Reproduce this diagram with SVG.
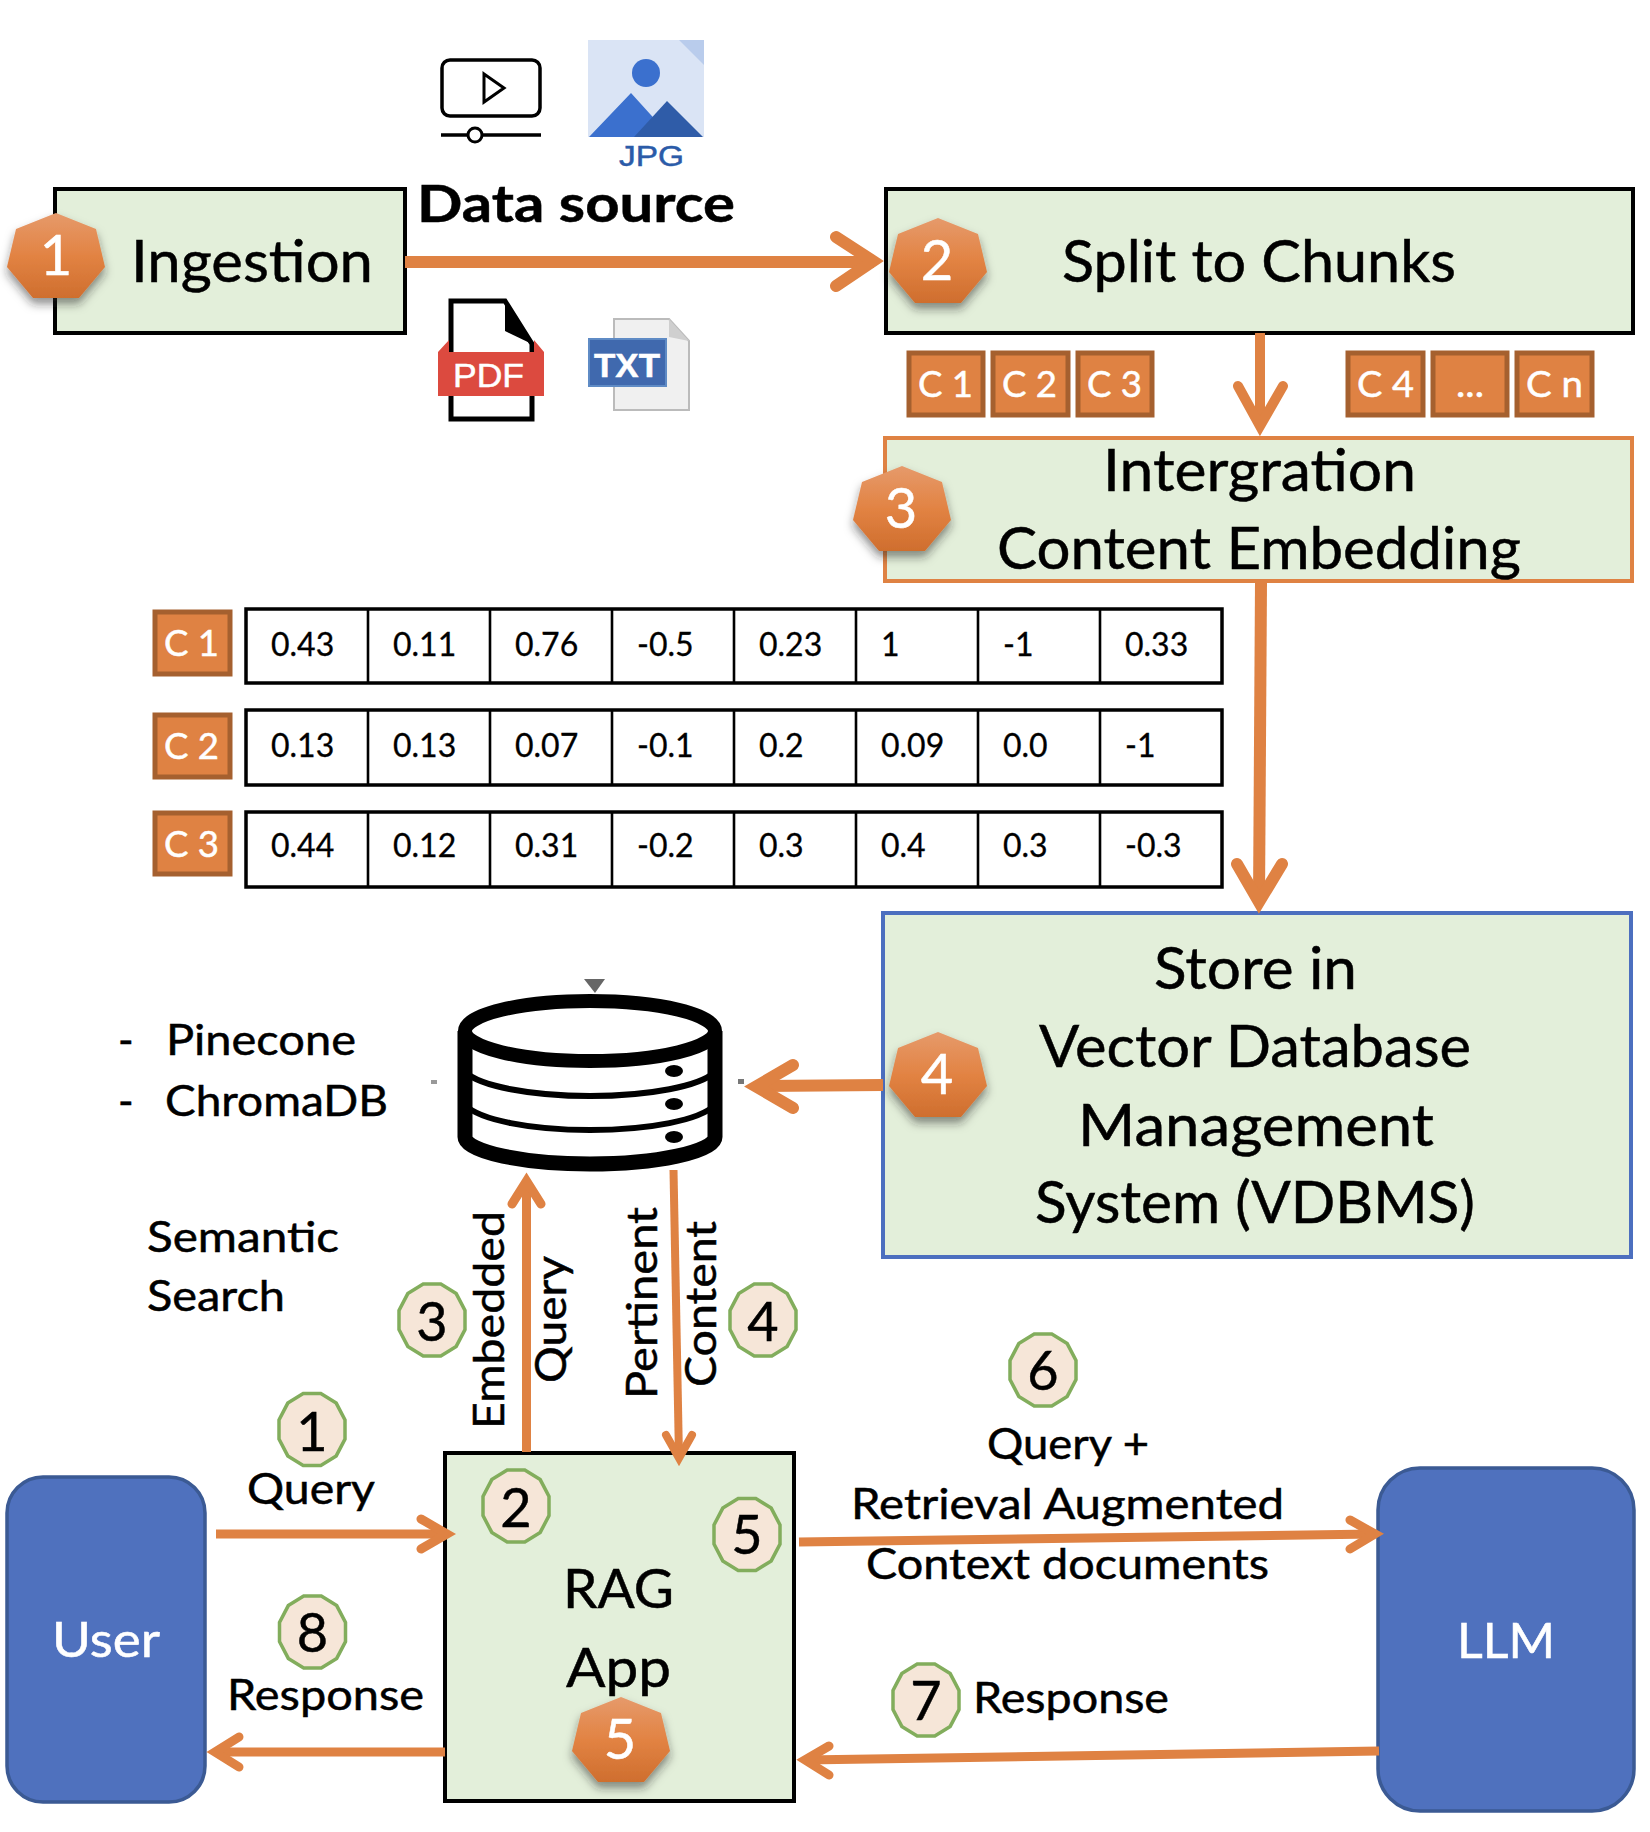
<svg xmlns="http://www.w3.org/2000/svg" xmlns:xlink="http://www.w3.org/1999/xlink" width="1650" height="1832" viewBox="0 0 1650 1832">
<style>
text{font-family:Lato,"Liberation Sans",sans-serif;fill:#000;stroke:#000;stroke-width:.5px}
.t58{font-size:58px}.t55{font-size:55px}.t42{font-size:42px}.t32{font-size:32px;stroke-width:.3px}
text.w{fill:#fff;stroke:#fff}
.arial{font-family:"Liberation Sans",Arial,sans-serif}
.box{fill:#E3EFDA;stroke:#000;stroke-width:4}
.chip{fill:#DF8243;stroke:#A5602F;stroke-width:5}
text.chipt{font-size:37px;fill:#fff;stroke:#fff}
.row{fill:#fff;stroke:#000;stroke-width:3.5}
.div{stroke:#000;stroke-width:2.6}
.blue{fill:#4F71BE;stroke:#3B5A94;stroke-width:3.5}
.gnum{font-size:54px;text-anchor:middle}
text.bnum{font-size:56px;fill:#fff;stroke:#fff;text-anchor:middle}
.ring{fill:#F6E6D8;stroke:#82AD5C;stroke-width:3.5}
.s{fill:none;stroke:#DF8243;stroke-linejoin:miter;stroke-miterlimit:12}
.h{stroke-linecap:round}
.w12{stroke-width:12}.w10{stroke-width:10}.w9{stroke-width:9}.w8{stroke-width:8}
</style>
<defs>
<linearGradient id="bg" x1="0" y1="0" x2="0" y2="1">
<stop offset="0" stop-color="#E69A6B"/><stop offset="0.5" stop-color="#E28343"/><stop offset="1" stop-color="#CF6E2E"/>
</linearGradient>
<filter id="sh" x="-30%" y="-30%" width="160%" height="170%"><feDropShadow dx="0" dy="6" stdDeviation="5" flood-color="#222" flood-opacity="0.5"/></filter>
<polygon id="hept" points="49,0 89,16 98,54 72,85 26,85 0,54 9,16" fill="url(#bg)" filter="url(#sh)"/>
<polygon id="dod" class="ring" points="33,9.6 24.2,26.4 8.8,36 -8.8,36 -24.2,26.4 -33,9.6 -33,-9.6 -24.2,-26.4 -8.8,-36 8.8,-36 24.2,-26.4 33,-9.6"/>
</defs>
<rect width="1650" height="1832" fill="#fff"/>

<g id="icon-video" fill="none" stroke="#000">
<rect x="442" y="60" width="98" height="56" rx="8" stroke-width="3.5"/>
<polygon points="484,74 504,88 484,102" stroke-width="3"/>
<line x1="441" y1="135" x2="541" y2="135" stroke-width="3.5"/>
<circle cx="475" cy="135" r="7" fill="#fff" stroke-width="3"/>
</g>
<g id="icon-jpg">
<rect x="588" y="40" width="116" height="97" fill="#DAE4F5"/>
<polygon points="679,40 704,40 704,65" fill="#B9CCEC"/>
<circle cx="646" cy="73" r="14" fill="#3B70CE"/>
<polygon points="589,137 631,93 660,125 678,137" fill="#3B70CE"/>
<polygon points="634,137 667,101 703,137" fill="#2F5CA8"/>
<text x="619" y="166" class="arial" font-size="30" style="fill:#2B5BA8;stroke:#2B5BA8" textLength="65" lengthAdjust="spacingAndGlyphs">JPG</text>
</g>
<g id="data-source"><text x="417" y="222" font-size="51" font-weight="700" textLength="318" lengthAdjust="spacingAndGlyphs">Data source</text></g>
<g id="icon-pdf">
<path d="M451 301H505L532 344V419H451Z" fill="#fff" stroke="#000" stroke-width="5"/>
<polygon points="505,301 532,344 505,331" fill="#000"/>
<polygon points="438,352 449,340 449,352 534,352 534,340 544,352 544,396 438,396" fill="#DC4A3F"/>
<text x="453" y="387" class="arial w" font-size="33" textLength="71" lengthAdjust="spacingAndGlyphs">PDF</text>
</g>
<g id="icon-txt">
<path d="M614 319H669L689 341V410H614Z" fill="#F0F0F0" stroke="#BBB" stroke-width="2"/>
<polygon points="669,319 689,341 669,337" fill="#CFCFCF"/>
<rect x="589" y="339" width="77" height="47" fill="#4069AE" stroke="#5F8BC5" stroke-width="2"/>
<text x="594" y="377" class="arial w" font-size="34" font-weight="700" textLength="66" lengthAdjust="spacingAndGlyphs">TXT</text>
</g>

<g id="node-ingestion">
<rect class="box" x="55" y="189" width="350" height="144"/>
<text class="t58" x="131" y="282" textLength="242" lengthAdjust="spacingAndGlyphs">Ingestion</text>
<use xlink:href="#hept" href="#hept" x="7" y="213"/>
<text class="bnum" x="56" y="275">1</text>
</g>
<g id="node-split">
<rect class="box" x="886" y="189" width="747" height="144"/>
<text class="t58" x="1062" y="282" textLength="394" lengthAdjust="spacingAndGlyphs">Split to Chunks</text>
<use xlink:href="#hept" href="#hept" x="889" y="218"/>
<text class="bnum" x="937" y="280">2</text>
</g>
<g id="chunks-top">
<rect class="chip" x="909" y="353" width="74" height="62"/><text class="chipt" x="918" y="397" textLength="55" lengthAdjust="spacingAndGlyphs">C 1</text>
<rect class="chip" x="993" y="353" width="75" height="62"/><text class="chipt" x="1002" y="397" textLength="55" lengthAdjust="spacingAndGlyphs">C 2</text>
<rect class="chip" x="1078" y="353" width="74" height="62"/><text class="chipt" x="1087" y="397" textLength="55" lengthAdjust="spacingAndGlyphs">C 3</text>
<rect class="chip" x="1348" y="353" width="75" height="62"/><text class="chipt" x="1357" y="397" textLength="57" lengthAdjust="spacingAndGlyphs">C 4</text>
<rect class="chip" x="1433" y="353" width="74" height="62"/><text class="chipt" x="1456" y="397" textLength="28" lengthAdjust="spacingAndGlyphs">...</text>
<rect class="chip" x="1517" y="353" width="75" height="62"/><text class="chipt" x="1526" y="397" textLength="57" lengthAdjust="spacingAndGlyphs">C n</text>
</g>
<g id="node-embedding">
<rect class="box" style="stroke:#DF8243" x="885" y="438" width="747" height="143"/>
<text class="t58" x="1103" y="491" textLength="313" lengthAdjust="spacingAndGlyphs">Intergration</text>
<text class="t58" x="997" y="569" textLength="524" lengthAdjust="spacingAndGlyphs">Content Embedding</text>
<use xlink:href="#hept" href="#hept" x="853" y="466"/>
<text class="bnum" x="901" y="528">3</text>
</g>

<g id="vector-table">
<g id="row-c1">
<rect class="chip" x="155" y="612" width="75" height="62"/><text class="chipt" x="164" y="656" textLength="55" lengthAdjust="spacingAndGlyphs">C 1</text>
<rect class="row" x="246" y="609" width="976" height="74"/>
<path class="div" d="M368 609V683M490 609V683M612 609V683M734 609V683M856 609V683M978 609V683M1100 609V683"/>
<text class="t32" y="656"><tspan x="271">0.43</tspan><tspan x="393">0.11</tspan><tspan x="515">0.76</tspan><tspan x="637">-0.5</tspan><tspan x="759">0.23</tspan><tspan x="881">1</tspan><tspan x="1003">-1</tspan><tspan x="1125">0.33</tspan></text>
</g>
<g id="row-c2">
<rect class="chip" x="155" y="715" width="75" height="62"/><text class="chipt" x="164" y="759" textLength="55" lengthAdjust="spacingAndGlyphs">C 2</text>
<rect class="row" x="246" y="710" width="976" height="75"/>
<path class="div" d="M368 710V785M490 710V785M612 710V785M734 710V785M856 710V785M978 710V785M1100 710V785"/>
<text class="t32" y="757"><tspan x="271">0.13</tspan><tspan x="393">0.13</tspan><tspan x="515">0.07</tspan><tspan x="637">-0.1</tspan><tspan x="759">0.2</tspan><tspan x="881">0.09</tspan><tspan x="1003">0.0</tspan><tspan x="1125">-1</tspan></text>
</g>
<g id="row-c3">
<rect class="chip" x="155" y="813" width="75" height="61"/><text class="chipt" x="164" y="857" textLength="55" lengthAdjust="spacingAndGlyphs">C 3</text>
<rect class="row" x="246" y="812" width="976" height="75"/>
<path class="div" d="M368 812V887M490 812V887M612 812V887M734 812V887M856 812V887M978 812V887M1100 812V887"/>
<text class="t32" y="857"><tspan x="271">0.44</tspan><tspan x="393">0.12</tspan><tspan x="515">0.31</tspan><tspan x="637">-0.2</tspan><tspan x="759">0.3</tspan><tspan x="881">0.4</tspan><tspan x="1003">0.3</tspan><tspan x="1125">-0.3</tspan></text>
</g>
</g>

<g id="node-vdbms">
<rect class="box" style="stroke:#4C6FBF" x="883" y="913" width="748" height="344"/>
<text class="t58" x="1154" y="989" textLength="203" lengthAdjust="spacingAndGlyphs">Store in</text>
<text class="t58" x="1039" y="1067" textLength="432" lengthAdjust="spacingAndGlyphs">Vector Database</text>
<text class="t58" x="1078" y="1146" textLength="356" lengthAdjust="spacingAndGlyphs">Management</text>
<text class="t58" x="1035" y="1223" textLength="440" lengthAdjust="spacingAndGlyphs">System (VDBMS)</text>
<use xlink:href="#hept" href="#hept" x="889" y="1032"/>
<text class="bnum" x="937" y="1094">4</text>
</g>

<g id="node-database">
<polygon points="584,979 605,979 595,993" fill="#666"/>
<rect x="431" y="1080" width="6" height="4" fill="#999"/>
<rect x="738" y="1079" width="6" height="5" fill="#777"/>
<g fill="none" stroke="#000">
<path d="M465 1031V1137C465 1152 525 1164 590 1164C655 1164 715 1152 715 1137V1031" fill="#fff" stroke-width="15"/>
<ellipse cx="590" cy="1031" rx="125" ry="30" fill="#fff" stroke-width="14"/>
<path d="M465 1072C480 1086 530 1096 590 1096C650 1096 700 1086 715 1072" stroke-width="6"/>
<path d="M465 1105C480 1120 530 1130 590 1130C650 1130 700 1120 715 1105" stroke-width="6"/>
</g>
<ellipse cx="674" cy="1071" rx="9" ry="6"/><ellipse cx="674" cy="1104" rx="9" ry="6"/><ellipse cx="674" cy="1137" rx="9" ry="6"/>
</g>

<g id="db-labels">
<text class="t42" x="118" y="1055">-</text><text class="t42" x="166" y="1055" textLength="190" lengthAdjust="spacingAndGlyphs">Pinecone</text>
<text class="t42" x="118" y="1116">-</text><text class="t42" x="165" y="1116" textLength="223" lengthAdjust="spacingAndGlyphs">ChromaDB</text>
<text class="t42" x="147" y="1252" textLength="192" lengthAdjust="spacingAndGlyphs">Semantic</text>
<text class="t42" x="147" y="1311" textLength="138" lengthAdjust="spacingAndGlyphs">Search</text>
</g>

<g id="connector-labels">
<text class="t42" transform="translate(504 1429) rotate(-90)" textLength="218" lengthAdjust="spacingAndGlyphs">Embedded</text>
<text class="t42" transform="translate(566 1383) rotate(-90)" textLength="127" lengthAdjust="spacingAndGlyphs">Query</text>
<text class="t42" transform="translate(657 1399) rotate(-90)" textLength="192" lengthAdjust="spacingAndGlyphs">Pertinent</text>
<text class="t42" transform="translate(716 1387) rotate(-90)" textLength="166" lengthAdjust="spacingAndGlyphs">Content</text>
<text class="t42" x="247" y="1504" textLength="128" lengthAdjust="spacingAndGlyphs">Query</text>
<text class="t42" x="227" y="1710" textLength="197" lengthAdjust="spacingAndGlyphs">Response</text>
<text class="t42" x="987" y="1459" textLength="162" lengthAdjust="spacingAndGlyphs">Query +</text>
<text class="t42" x="851" y="1519" textLength="433" lengthAdjust="spacingAndGlyphs">Retrieval Augmented</text>
<text class="t42" x="866" y="1579" textLength="403" lengthAdjust="spacingAndGlyphs">Context documents</text>
<text class="t42" x="973" y="1713" textLength="196" lengthAdjust="spacingAndGlyphs">Response</text>
</g>

<g id="node-user">
<rect class="blue" x="7" y="1477" width="198" height="325" rx="36"/>
<text x="52" y="1657" class="w" font-size="48" textLength="108" lengthAdjust="spacingAndGlyphs">User</text>
</g>
<g id="node-rag">
<rect class="box" x="445" y="1453" width="349" height="348"/>
<text class="t55" x="563" y="1608" textLength="111" lengthAdjust="spacingAndGlyphs">RAG</text>
<text class="t55" x="566" y="1687" textLength="105" lengthAdjust="spacingAndGlyphs">App</text>
<use xlink:href="#hept" href="#hept" x="572" y="1697"/>
<text class="bnum" x="620" y="1759">5</text>
</g>
<g id="node-llm">
<rect class="blue" x="1378" y="1468" width="256" height="343" rx="42"/>
<text x="1457" y="1658" class="w" font-size="48" textLength="98" lengthAdjust="spacingAndGlyphs">LLM</text>
</g>

<g id="connectors">
<path class="s w12" d="M405 262H874"/><path class="s w12 h" d="M836 237L873 261L836 286"/>
<path class="s w10" d="M1260 333V426"/><path class="s w10 h" d="M1238 386L1260 426L1283 386"/>
<path class="s w12" d="M1261 582L1259 902"/><path class="s w12 h" d="M1237 864L1259 902L1282 864"/>
<path class="s w12" d="M883 1085L756 1086"/><path class="s w12 h" d="M793 1065L756 1086.5L793 1108"/>
<path class="s w9" d="M526.5 1452V1181"/><path class="s w9 h" d="M512 1204L526.5 1181L541 1204"/>
<path class="s w8" d="M673.5 1170L679 1458"/><path class="s w8 h" d="M666 1435L679 1458L692 1435"/>
<path class="s w9" d="M216 1534H447"/><path class="s w9 h" d="M421 1519L447 1534L421 1549"/>
<path class="s w9" d="M445 1752H215"/><path class="s w9 h" d="M239 1737L215 1752L239 1767"/>
<path class="s w9" d="M799 1542L1375 1534"/><path class="s w9 h" d="M1350 1520L1375 1534L1350 1549"/>
<path class="s w9" d="M1379 1751L805 1760"/><path class="s w9 h" d="M829 1746L805 1760L829 1775"/>
</g>

<g id="step-1"><use xlink:href="#dod" href="#dod" x="312" y="1429.5"/><text class="gnum" x="312" y="1451">1</text></g>
<g id="step-2"><use xlink:href="#dod" href="#dod" x="516" y="1506"/><text class="gnum" x="516" y="1527">2</text></g>
<g id="step-3"><use xlink:href="#dod" href="#dod" x="432" y="1320"/><text class="gnum" x="432" y="1341">3</text></g>
<g id="step-4"><use xlink:href="#dod" href="#dod" x="763" y="1320"/><text class="gnum" x="763" y="1341">4</text></g>
<g id="step-5"><use xlink:href="#dod" href="#dod" x="747" y="1534.5"/><text class="gnum" x="747" y="1554">5</text></g>
<g id="step-6"><use xlink:href="#dod" href="#dod" x="1043" y="1370"/><text class="gnum" x="1043" y="1390">6</text></g>
<g id="step-7"><use xlink:href="#dod" href="#dod" x="926" y="1700"/><text class="gnum" x="926" y="1720">7</text></g>
<g id="step-8"><use xlink:href="#dod" href="#dod" x="312.5" y="1632"/><text class="gnum" x="312.5" y="1652">8</text></g>
</svg>
